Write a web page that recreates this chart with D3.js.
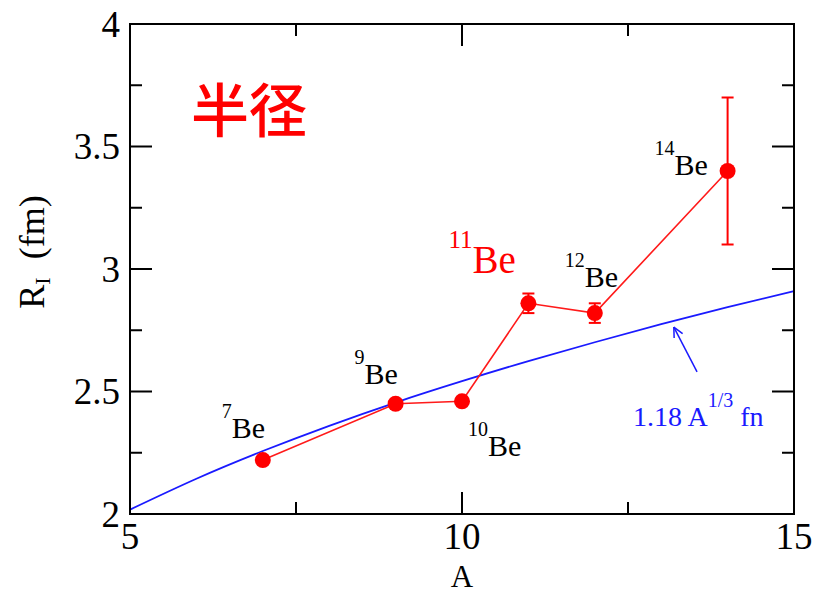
<!DOCTYPE html>
<html>
<head>
<meta charset="utf-8">
<script src="https://cdn.jsdelivr.net/npm/d3@7"></script>
<style>
  body { margin: 0; background: #fff; }
</style>
</head>
<body>
<div id="chart"></div>
<script>
// measured data
var massNumbers = [7, 9, 10, 11, 12, 14];
var radii = [2.22, 2.45, 2.46, 2.86, 2.82, 3.40];
var radiusErr = [0, 0, 0.015, 0.04, 0.04, 0.30];
var isotopeNames = ["7", "9", "10", "11", "12", "14"];

// 1.18 A^1/3 curve, values at integer A
var curveA = [5, 6, 7, 8, 9, 10, 11, 12, 13, 14, 15];
var curveR = [2.018, 2.144, 2.257, 2.360, 2.455, 2.542, 2.624, 2.701, 2.775, 2.844, 2.910];

var xTicks = [5, 10, 15];
var xMinorTicks = [7.5, 12.5];
var yTicks = [2, 2.5, 3, 3.5, 4];
var yMinorTicks = [2.25, 2.75, 3.25, 3.75];

var SERIF = '"Liberation Serif", "Times New Roman", Tinos, "DejaVu Serif", serif';

var svgWidth = 819;
var svgHeight = 594;

var margin = { top: 24, right: 25, bottom: 80, left: 130 };
var width = 794 - margin.left;
var height = 514 - margin.top;

var svg = d3.select("#chart")
  .append("svg")
  .attr("width", svgWidth)
  .attr("height", svgHeight);

var chartGroup = svg.append("g")
  .attr("transform", `translate(${margin.left}, ${margin.top})`);

var xScale = d3.scaleLinear().domain([5, 15]).range([0, width]);
var yScale = d3.scaleLinear().domain([2, 4]).range([height, 0]);

// ticks on all four sides, pointing inward
function drawTicks(vals, len) {
  vals.forEach(function(v) {
    var x = xScale(v);
    chartGroup.append("line").attr("x1", x).attr("x2", x).attr("y1", height).attr("y2", height - len)
      .attr("stroke", "#000").attr("stroke-width", 2);
    chartGroup.append("line").attr("x1", x).attr("x2", x).attr("y1", 0).attr("y2", len)
      .attr("stroke", "#000").attr("stroke-width", 2);
  });
}
function drawYTicks(vals, len) {
  vals.forEach(function(v) {
    var y = yScale(v);
    chartGroup.append("line").attr("x1", 0).attr("x2", len).attr("y1", y).attr("y2", y)
      .attr("stroke", "#000").attr("stroke-width", 2);
    chartGroup.append("line").attr("x1", width).attr("x2", width - len).attr("y1", y).attr("y2", y)
      .attr("stroke", "#000").attr("stroke-width", 2);
  });
}
drawTicks(xTicks, 22);
drawTicks(xMinorTicks, 12);
drawYTicks(yTicks, 22);
drawYTicks(yMinorTicks, 12);

// tick labels
chartGroup.selectAll(".xlab")
  .data(xTicks)
  .enter()
  .append("text")
  .style("font-family", SERIF)
  .attr("x", d => xScale(d))
  .attr("y", height + 35)
  .attr("text-anchor", "middle")
  .attr("font-size", 37)
  .text(d => d);

chartGroup.selectAll(".ylab")
  .data(yTicks)
  .enter()
  .append("text")
  .style("font-family", SERIF)
  .attr("x", -10)
  .attr("y", d => yScale(d))
  .attr("dy", "0.35em")
  .attr("text-anchor", "end")
  .attr("font-size", 37)
  .text(d => d);

// axis titles
svg.append("text")
  .style("font-family", SERIF)
  .attr("x", 462)
  .attr("y", 587)
  .attr("text-anchor", "middle")
  .attr("font-size", 31)
  .text("A");

var yTitle = svg.append("text")
  .style("font-family", SERIF)
  .attr("transform", "translate(44, 252) rotate(-90)")
  .attr("text-anchor", "middle")
  .attr("font-size", 36);
yTitle.append("tspan").text("R");
yTitle.append("tspan").attr("font-size", 22).attr("dy", 6).text("I");
yTitle.append("tspan").attr("dy", -6).text("\u00a0\u00a0(fm)");

// blue curve
var curveLine = d3.line()
  .x((d, i) => xScale(curveA[i]))
  .y(d => yScale(d))
  .curve(d3.curveNatural);

chartGroup.append("path")
  .datum(curveR)
  .attr("d", curveLine)
  .attr("fill", "none")
  .attr("stroke", "#1a1aff")
  .attr("stroke-width", 1.8);

// red data line
var dataLine = d3.line()
  .x((d, i) => xScale(massNumbers[i]))
  .y(d => yScale(d));

chartGroup.append("path")
  .datum(radii)
  .attr("d", dataLine)
  .attr("fill", "none")
  .attr("stroke", "#ff1a1a")
  .attr("stroke-width", 1.6);

// error bars
radii.forEach(function(r, i) {
  if (radiusErr[i] <= 0) return;
  var x = xScale(massNumbers[i]);
  var y1 = yScale(r - radiusErr[i]);
  var y2 = yScale(r + radiusErr[i]);
  chartGroup.append("line").attr("x1", x).attr("x2", x).attr("y1", y1).attr("y2", y2)
    .attr("stroke", "#ff0000").attr("stroke-width", 2);
  [y1, y2].forEach(function(y) {
    chartGroup.append("line").attr("x1", x - 6).attr("x2", x + 6).attr("y1", y).attr("y2", y)
      .attr("stroke", "#ff0000").attr("stroke-width", 2);
  });
});

// points
chartGroup.selectAll("circle")
  .data(radii)
  .enter()
  .append("circle")
  .attr("cx", (d, i) => xScale(massNumbers[i]))
  .attr("cy", d => yScale(d))
  .attr("r", 8)
  .attr("fill", "#ff0000");

// isotope labels: offset from each point (pixels)
var labelOffsets = [[-41, -22], [-41, -20], [6, 55], [-80, -30], [-30, -26], [-73, 4]];
radii.forEach(function(r, i) {
  var big = isotopeNames[i] === "11";
  var t = chartGroup.append("text")
    .style("font-family", SERIF)
    .attr("x", xScale(massNumbers[i]) + labelOffsets[i][0])
    .attr("y", yScale(r) + labelOffsets[i][1])
    .attr("fill", big ? "#ff0000" : "#000");
  var up = big ? 25 : 20;
  t.append("tspan").attr("font-size", big ? 25 : 20).attr("dy", -up).text(isotopeNames[i]);
  t.append("tspan").attr("font-size", big ? 39 : 30).attr("dy", up).text("Be");
});

// arrow to the curve
var tail = [xScale(13.54), yScale(2.58)];
var head = [xScale(13.19), yScale(2.763)];
chartGroup.append("line")
  .attr("x1", tail[0]).attr("y1", tail[1]).attr("x2", head[0]).attr("y2", head[1])
  .attr("stroke", "#1a1aff").attr("stroke-width", 1.5);
var ang = Math.atan2(tail[1] - head[1], tail[0] - head[0]);
[-0.45, 0.45].forEach(function(a) {
  chartGroup.append("line")
    .attr("x1", head[0]).attr("y1", head[1])
    .attr("x2", head[0] + 11 * Math.cos(ang + a))
    .attr("y2", head[1] + 11 * Math.sin(ang + a))
    .attr("stroke", "#1a1aff").attr("stroke-width", 1.5);
});

// formula label
var formula = svg.append("text")
  .style("font-family", SERIF)
  .attr("x", 633)
  .attr("y", 426)
  .attr("fill", "#1a1aff")
  .attr("font-size", 28);
formula.append("tspan").text("1.18 A");
formula.append("tspan").attr("font-size", 20).attr("dy", -19).text("1/3");
formula.append("tspan").attr("dy", 19).text(" fn");

// title
svg.append("text")
  .style("font-family", '"Noto Sans CJK JP", "Noto Sans CJK SC", sans-serif')
  .attr("x", 191)
  .attr("y", 132)
  .attr("fill", "#ff0000")
  .attr("font-size", 58)
  .attr("font-weight", 500)
  .text("半径");

// frame
chartGroup.append("rect")
  .attr("x", 0).attr("y", 0)
  .attr("width", width).attr("height", height)
  .attr("fill", "none")
  .attr("stroke", "#000")
  .attr("stroke-width", 2);
</script>
</body>
</html>
